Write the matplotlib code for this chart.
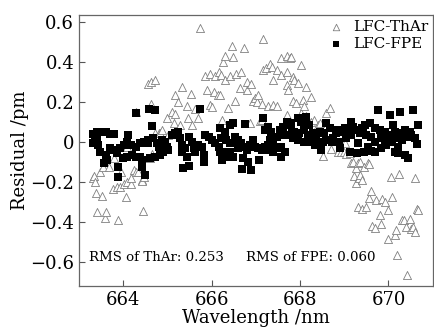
import matplotlib
matplotlib.use('Agg')
import matplotlib.pyplot as plt

# LFC-ThAr residuals (pm)
x_thar = [663.32, 663.34, 663.37, 663.39, 663.41, 663.47, 663.51, 663.55, 663.58, 663.62,
          663.62, 663.67, 663.77, 663.79, 663.85, 663.88, 663.92, 663.94, 664.02, 664.07,
          664.08, 664.09, 664.17, 664.18, 664.24, 664.28, 664.30, 664.33, 664.42, 664.43,
          664.45, 664.46, 664.57, 664.57, 664.61, 664.62, 664.64, 664.65, 664.72, 664.72,
          664.76, 664.80, 664.83, 664.87, 664.98, 665.02, 665.10, 665.14, 665.17, 665.17,
          665.25, 665.29, 665.33, 665.44, 665.46, 665.54, 665.55, 665.63, 665.70, 665.74,
          665.86, 665.89, 665.97, 665.97, 666.00, 666.05, 666.08, 666.14, 666.16, 666.18,
          666.22, 666.24, 666.26, 666.30, 666.30, 666.37, 666.41, 666.45, 666.48, 666.52,
          666.56, 666.64, 666.67, 666.73, 666.79, 666.79, 666.86, 666.90, 666.94, 666.98,
          667.02, 667.05, 667.09, 667.13, 667.13, 667.17, 667.17, 667.24, 667.28, 667.32,
          667.36, 667.39, 667.39, 667.47, 667.47, 667.58, 667.58, 667.70, 667.70, 667.70,
          667.70, 667.73, 667.77, 667.80, 667.83, 667.83, 667.87, 667.91, 667.95, 668.02,
          668.02, 668.06, 668.10, 668.14, 668.14, 668.25, 668.25, 668.26, 668.32, 668.32,
          668.40, 668.46, 668.51, 668.59, 668.67, 668.70, 668.86, 668.92, 668.99, 669.01,
          669.05, 669.12, 669.15, 669.19, 669.23, 669.27, 669.27, 669.30, 669.31, 669.33,
          669.35, 669.36, 669.39, 669.41, 669.45, 669.49, 669.53, 669.55, 669.57, 669.61,
          669.63, 669.70, 669.72, 669.80, 669.83, 669.86, 669.93, 669.98, 670.00, 670.06,
          670.08, 670.14, 670.17, 670.20, 670.24, 670.31, 670.36, 670.39, 670.43, 670.48,
          670.51, 670.55, 670.59, 670.61, 670.64, 670.67]
y_thar = [-0.180, -0.170, -0.200, -0.255, -0.350, -0.150, -0.270, -0.125, -0.380, -0.100,
          -0.350, -0.125, -0.235, -0.083, -0.225, -0.390, -0.225, -0.150, -0.210, -0.275,
          -0.200, -0.025, -0.210, -0.180, -0.140, 0.150, -0.150, -0.150, -0.190, -0.195,
          -0.345, -0.175, -0.083, 0.290, -0.083, 0.300, 0.190, -0.060, 0.310, 0.042,
          0.025, 0.042, 0.042, 0.058, 0.117, 0.033, 0.150, 0.092, 0.233, 0.137,
          0.200, 0.083, 0.275, 0.180, 0.120, 0.237, 0.083, 0.163, 0.120, 0.567,
          0.330, 0.260, 0.340, 0.183, 0.172, 0.250, 0.330, 0.233, 0.350, 0.233,
          0.333, 0.108, 0.400, 0.430, 0.310, 0.167, 0.330, 0.480, 0.425, 0.203,
          0.340, 0.267, 0.350, 0.467, 0.300, 0.258, 0.092, 0.290, 0.203, 0.217,
          0.197, 0.233, 0.103, 0.187, 0.108, 0.513, 0.360, 0.367, 0.178, 0.390,
          0.375, 0.310, 0.183, 0.358, 0.178, 0.420, 0.333, 0.430, 0.350, 0.283,
          0.133, 0.258, 0.417, 0.425, 0.325, 0.203, 0.310, 0.192, 0.292, 0.383,
          0.142, 0.208, 0.180, 0.275, 0.128, 0.225, 0.100, 0.033, 0.108, 0.042,
          0.083, 0.095, -0.070, 0.142, 0.170, -0.037, -0.050, -0.050, -0.050, -0.008,
          -0.063, -0.058, -0.108, -0.100, -0.170, -0.133, -0.208, -0.325, -0.108, -0.183,
          -0.167, -0.100, -0.190, -0.333, -0.125, -0.325, -0.108, -0.111, -0.283, -0.245,
          -0.420, -0.430, -0.292, -0.367, -0.410, -0.287, -0.300, -0.487, -0.338, -0.175,
          -0.275, -0.463, -0.440, -0.567, -0.163, -0.390, -0.390, -0.425, -0.663, -0.383,
          -0.433, -0.425, -0.183, -0.450, -0.333, -0.342]

# LFC-FPE residuals (pm)
x_fpe = [663.32, 663.32, 663.37, 663.41, 663.41, 663.42, 663.47, 663.52, 663.56, 663.60,
         663.62, 663.64, 663.71, 663.71, 663.77, 663.79, 663.85, 663.89, 663.89, 663.92,
         664.00, 664.01, 664.08, 664.09, 664.10, 664.17, 664.20, 664.28, 664.28, 664.30,
         664.39, 664.39, 664.42, 664.43, 664.47, 664.49, 664.55, 664.57, 664.58, 664.61,
         664.66, 664.68, 664.72, 664.72, 664.76, 664.80, 664.83, 664.87, 664.91, 664.95,
         664.98, 665.02, 665.10, 665.17, 665.25, 665.29, 665.33, 665.33, 665.36, 665.40,
         665.44, 665.48, 665.48, 665.55, 665.59, 665.63, 665.70, 665.74, 665.78, 665.82,
         665.82, 665.85, 665.93, 666.00, 666.08, 666.16, 666.18, 666.20, 666.22, 666.23,
         666.26, 666.30, 666.30, 666.33, 666.41, 666.41, 666.41, 666.48, 666.48, 666.52,
         666.60, 666.60, 666.67, 666.69, 666.71, 666.71, 666.75, 666.79, 666.83, 666.86,
         666.90, 666.94, 666.98, 667.05, 667.07, 667.13, 667.17, 667.20, 667.20, 667.28,
         667.28, 667.32, 667.32, 667.35, 667.39, 667.39, 667.47, 667.47, 667.52, 667.55,
         667.58, 667.58, 667.62, 667.66, 667.67, 667.70, 667.77, 667.80, 667.81, 667.83,
         667.87, 667.95, 667.95, 667.98, 668.02, 668.10, 668.10, 668.14, 668.17, 668.21,
         668.21, 668.29, 668.33, 668.36, 668.44, 668.48, 668.52, 668.55, 668.59, 668.59,
         668.67, 668.73, 668.74, 668.82, 668.86, 668.89, 668.90, 668.93, 669.01, 669.05,
         669.08, 669.12, 669.16, 669.16, 669.20, 669.27, 669.28, 669.31, 669.35, 669.39,
         669.43, 669.45, 669.46, 669.50, 669.54, 669.58, 669.60, 669.61, 669.69, 669.69,
         669.69, 669.77, 669.80, 669.84, 669.84, 669.92, 669.92, 669.95, 669.99, 670.03,
         670.07, 670.11, 670.14, 670.14, 670.18, 670.21, 670.22, 670.26, 670.26, 670.30,
         670.37, 670.37, 670.41, 670.45, 670.48, 670.52, 670.56, 670.60, 670.65, 670.67]
y_fpe = [0.040, -0.008, 0.008, 0.047, 0.008, -0.017, -0.050, 0.050, -0.108, -0.067,
         0.047, -0.090, 0.040, -0.033, -0.042, 0.037, -0.058, -0.175, -0.125, -0.033,
         -0.083, -0.017, -0.075, 0.000, 0.033, -0.017, -0.067, 0.145, -0.075, -0.025,
         -0.008, -0.075, -0.125, -0.090, 0.000, -0.167, -0.008, 0.008, 0.165, -0.083,
         0.080, 0.017, 0.160, -0.075, -0.008, -0.025, -0.067, 0.008, -0.050, 0.000,
         -0.025, -0.042, 0.033, 0.042, 0.050, 0.017, -0.017, -0.050, -0.133, -0.033,
         -0.075, 0.025, -0.120, 0.000, -0.033, -0.050, -0.017, 0.165, -0.025, -0.067,
         -0.100, 0.033, 0.025, 0.008, -0.008, -0.025, 0.067, -0.050, 0.017, -0.092,
         -0.050, 0.050, -0.075, 0.008, 0.083, -0.008, -0.050, 0.092, -0.075, 0.025,
         0.008, -0.033, -0.008, -0.138, -0.025, -0.083, 0.087, -0.042, -0.100, -0.017,
         -0.142, 0.008, -0.025, -0.033, -0.092, -0.042, 0.120, 0.058, -0.025, 0.075,
         -0.017, 0.008, -0.042, 0.050, 0.000, -0.050, 0.025, -0.033, -0.033, 0.058,
         -0.025, -0.075, 0.075, 0.033, -0.050, 0.100, 0.092, 0.083, 0.042, 0.017,
         0.050, 0.117, 0.008, 0.042, 0.100, 0.058, 0.000, 0.125, 0.033, 0.083,
         0.000, 0.042, -0.017, 0.025, 0.050, -0.042, 0.000, 0.042, 0.092, 0.008,
         0.067, 0.000, 0.017, 0.042, 0.058, 0.000, -0.030, 0.050, 0.067, 0.017,
         0.042, -0.050, 0.100, 0.033, 0.075, 0.058, -0.055, -0.008, 0.042, 0.067,
         0.042, -0.050, 0.083, 0.033, -0.025, 0.092, -0.045, 0.025, 0.067, 0.000,
         -0.050, 0.158, 0.058, 0.017, -0.033, 0.050, 0.000, -0.017, 0.033, 0.133,
         0.000, 0.083, 0.050, -0.050, 0.017, -0.055, -0.025, 0.150, 0.042, 0.008,
         0.058, -0.067, 0.025, -0.083, 0.050, 0.033, 0.158, 0.020, -0.010, 0.083]

rms_thar = 0.253
rms_fpe = 0.060

plt.rcParams['font.family'] = ['DejaVu Serif']
fig = plt.figure(figsize=(4.34, 3.33), dpi=100)
ax = fig.add_axes([0.182, 0.141, 0.815, 0.814])

ax.scatter(x_thar, y_thar, marker='^', s=34, facecolors='white', edgecolors='#808080',
           linewidths=0.6, label='LFC-ThAr', zorder=2)
ax.scatter(x_fpe, y_fpe, marker='s', s=36, color='black', linewidths=0,
           label='LFC-FPE', zorder=3)

ax.set_xlim(663, 671)
ax.set_ylim(-0.72, 0.633)
ax.set_xticks([664, 666, 668, 670])
ax.set_yticks([-0.6, -0.4, -0.2, 0, 0.2, 0.4, 0.6])
ax.set_yticklabels(['\u22120.6', '\u22120.4', '\u22120.2', '0', '0.2', '0.4', '0.6'])
ax.tick_params(direction='in', labelsize=13, length=4, width=0.8, color='#555555')
for sp in ax.spines.values():
    sp.set_color('#666666')
    sp.set_linewidth(0.9)

ax.set_xlabel('Wavelength /nm', fontsize=13, labelpad=0)
ax.set_ylabel('Residual /pm', fontsize=13, labelpad=1)

ax.text(663.23, -0.577, 'RMS of ThAr: %.3f' % rms_thar, fontsize=9.6, va='center')
ax.text(666.77, -0.577, 'RMS of FPE: %.3f' % rms_fpe, fontsize=9.6, va='center')

ax.legend(loc='upper right', frameon=False, fontsize=11, handletextpad=0.1,
          borderaxespad=0.1, labelspacing=0.2, markerscale=0.8, borderpad=0.2)

plt.savefig('out.png', dpi=100)
